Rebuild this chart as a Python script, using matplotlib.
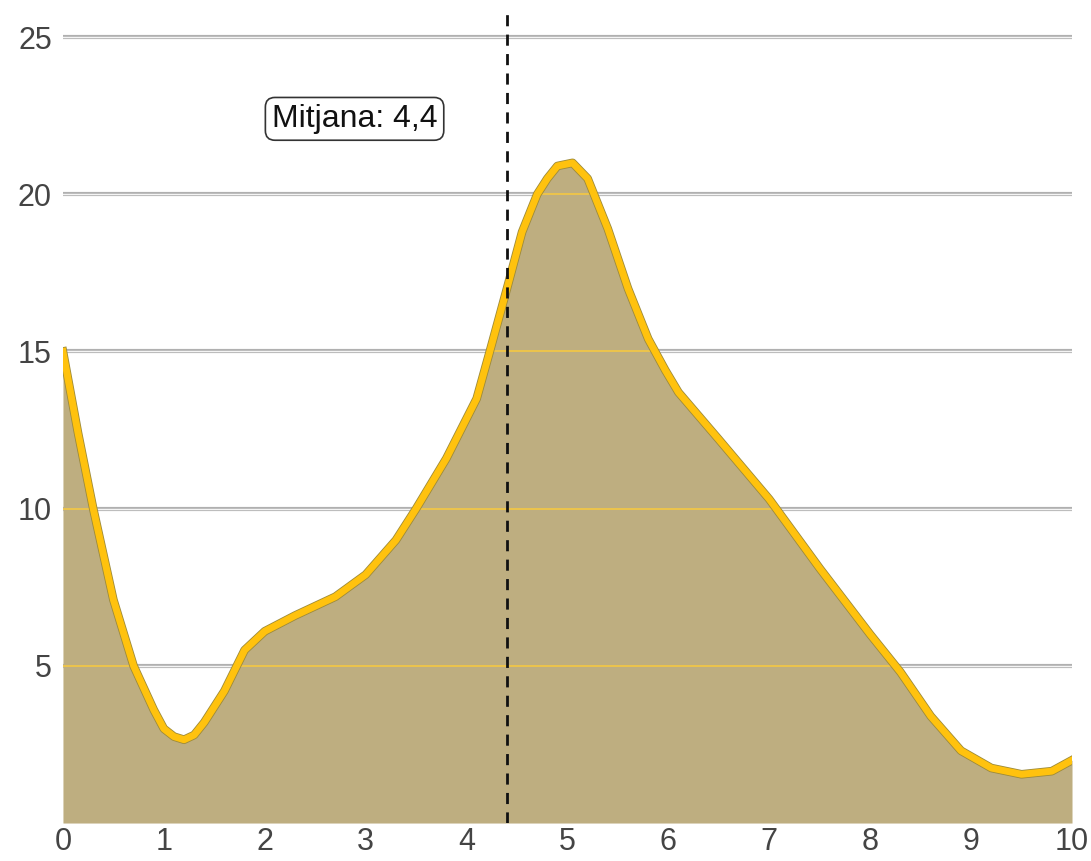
"""Density-style area chart with mean marker."""

import matplotlib
matplotlib.use("Agg")
import matplotlib.pyplot as plt
import matplotlib.patheffects as pe

plt.rcParams["font.family"] = ["Liberation Sans", "DejaVu Sans"]

# values
x_vals = [0.0, 0.15, 0.3, 0.5, 0.7, 0.9, 1.0, 1.1, 1.2, 1.3, 1.4, 1.6, 1.8, 2.0,
          2.3, 2.7, 3.0, 3.3, 3.5, 3.8, 4.1, 4.23, 4.4, 4.55, 4.7, 4.8, 4.9, 5.05,
          5.2, 5.4, 5.6, 5.8, 5.97, 6.1, 6.5, 7.0, 7.5, 8.0, 8.3, 8.6, 8.9, 9.2,
          9.5, 9.8, 10.0]
y_vals = [15.0, 12.4, 10.0, 7.1, 5.0, 3.6, 3.0, 2.75, 2.65, 2.8, 3.2, 4.2, 5.5, 6.1,
          6.6, 7.2, 7.9, 9.0, 10.0, 11.6, 13.5, 15.0, 17.0, 18.8, 20.0, 20.5, 20.9, 21.0,
          20.5, 18.9, 17.0, 15.4, 14.4, 13.7, 12.2, 10.3, 8.1, 6.0, 4.8, 3.4, 2.3, 1.75,
          1.55, 1.65, 2.0]
mean_value = 4.4
mean_label = "Mitjana: 4,4"
y_ticks = [5, 10, 15, 20, 25]
x_ticks = list(range(0, 11))

fill_color = "#BEAE80"
line_color = "#FFC20E"
text_color = "#444444"

fig = plt.figure(figsize=(10.91, 8.61), dpi=100)
ax = fig.add_axes([0.0577, 0.0441, 0.9249, 0.942])

# grid: gray outline with light core
for yt in y_ticks:
    ax.axhline(yt, color="#b0b0b0", lw=3.0, zorder=1)
    ax.axhline(yt, color="#f4f4f4", lw=1.0, zorder=1.1)

poly = ax.fill_between(x_vals, 0, y_vals, color=fill_color, lw=0, zorder=2)

# faint yellow grid visible through the area
for yt in y_ticks:
    gl = ax.axhline(yt, color="#F5C842", lw=1.2, zorder=2.5)
    gl.set_clip_path(poly.get_paths()[0], transform=ax.transData)

ax.plot(x_vals, y_vals, color=line_color, lw=5, solid_joinstyle="round",
        zorder=4,
        path_effects=[pe.Stroke(linewidth=6.2, foreground="#9C8A3A"), pe.Normal()])

ax.axvline(mean_value, color="#111111", lw=2, ls=(0, (4, 3)), zorder=5)
ax.text(2.89, 22.4, mean_label, fontsize=23, color="#111111", ha="center",
        va="center", zorder=6,
        bbox=dict(boxstyle="round,pad=0.2,rounding_size=0.3", fc="white",
                  ec="#333333", lw=1.2))

ax.set_xlim(0, 10)
ax.set_ylim(0, 25.8)
ax.set_xticks(x_ticks)
ax.set_yticks(y_ticks)
ax.tick_params(length=0, labelsize=22, labelcolor=text_color)
ax.tick_params(axis="y", pad=8)
ax.tick_params(axis="x", pad=3)
for s in ax.spines.values():
    s.set_visible(False)

fig.savefig("out.png", dpi=100)
plt.close(fig)
